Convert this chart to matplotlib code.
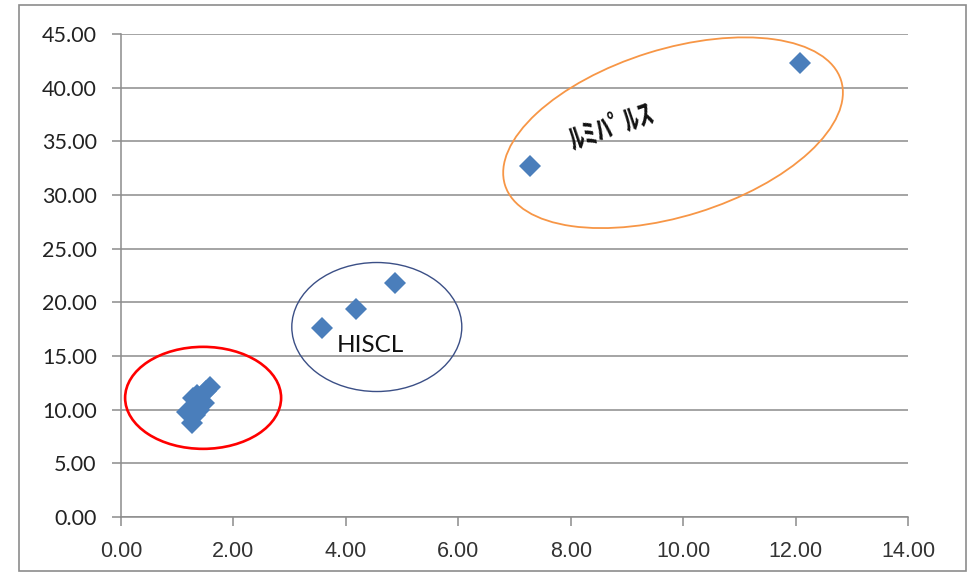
import matplotlib
matplotlib.use("Agg")
import matplotlib.pyplot as plt
from matplotlib.patches import Ellipse, Rectangle
from matplotlib.transforms import Affine2D, ScaledTranslation
from matplotlib.ticker import FormatStrFormatter

# scatter data
x_vals = [1.17, 1.26, 1.28, 1.35, 1.40, 1.48, 1.51, 1.58, 1.39, 1.32,
          3.58, 4.18, 4.87, 7.28, 12.08]
y_vals = [9.8, 8.8, 11.1, 11.4, 10.4, 10.6, 11.7, 12.1, 10.0, 9.5,
          17.6, 19.4, 21.8, 32.7, 42.3]

x_ticks = [0, 2, 4, 6, 8, 10, 12, 14]
y_ticks = [0, 5, 10, 15, 20, 25, 30, 35, 40, 45]

# group outlines: centre in data units, size in pixels, angle in degrees
groups = [
    dict(center=(1.46, 11.1), w=156, h=102, angle=0, color="#ff0000", lw=1.9),
    dict(center=(4.55, 17.7), w=170, h=129, angle=0, color="#3b4f86", lw=1.0),
    dict(center=(9.82, 35.8), w=352, h=167, angle=17.3, color="#f79646", lw=1.3),
]
labels = [
    dict(text="HISCL", pos=(4.43, 16.0), rot=0, size=17.5, weight="normal",
         family=["Lato", "DejaVu Sans"]),
    dict(text="ﾙﾐﾊﾟﾙｽ", pos=(8.73, 36.3), rot=19, size=21, weight="bold",
         family=["Noto Sans CJK JP", "DejaVu Sans"]),
]

grid_col = "#8c8c8c"

fig = plt.figure(figsize=(9.73, 5.74), dpi=100)
ax = fig.add_axes([0.1244, 0.0993, 0.8088, 0.8415])

ax.plot(x_vals, y_vals, linestyle="none", marker="D", markersize=11,
        color="#4a7ebb", markeredgewidth=0, zorder=3)

ax.set_xlim(0, 14)
ax.set_ylim(0, 45)
ax.set_xticks(x_ticks)
ax.set_yticks(y_ticks)
ax.xaxis.set_major_formatter(FormatStrFormatter("%.2f"))
ax.yaxis.set_major_formatter(FormatStrFormatter("%.2f"))

ax.grid(axis="y", color=grid_col, linewidth=1.1)
ax.set_axisbelow(True)
for side in ["top", "right"]:
    ax.spines[side].set_visible(False)
for side in ["left", "bottom"]:
    ax.spines[side].set_color(grid_col)
    ax.spines[side].set_linewidth(1.1)

ax.tick_params(axis="both", length=6.5, width=1.1, color=grid_col, pad=11)
for lab in ax.get_yticklabels():
    lab.set_fontfamily(["Lato", "DejaVu Sans"])
    lab.set_fontsize(15.5)
    lab.set_color("#222222")
for lab in ax.get_xticklabels():
    lab.set_fontfamily(["Liberation Sans", "DejaVu Sans"])
    lab.set_fontsize(15.5)
    lab.set_color("#333333")

for g in groups:
    tr = Affine2D() + ScaledTranslation(g["center"][0], g["center"][1], ax.transData)
    ax.add_patch(Ellipse((0, 0), g["w"], g["h"], angle=g["angle"], fill=False,
                         edgecolor=g["color"], linewidth=g["lw"], transform=tr,
                         zorder=4))

for t in labels:
    ax.text(t["pos"][0], t["pos"][1], t["text"], rotation=t["rot"],
            rotation_mode="anchor", ha="center", va="center",
            fontsize=t["size"], fontweight=t["weight"], family=t["family"],
            color="#111111", zorder=5)

# outer chart frame
fig.patches.append(Rectangle((0.020, 0.006), 0.973, 0.985, transform=fig.transFigure,
                             fill=False, edgecolor="#8c8c8c", linewidth=1.2))

fig.savefig("out.png", dpi=100)
